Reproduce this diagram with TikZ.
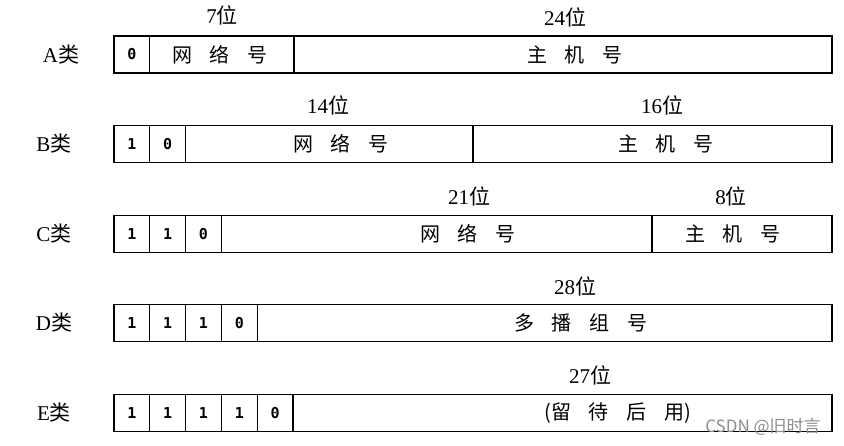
\documentclass[tikz,border=0pt]{standalone}
\usepackage{fontspec}
\setmainfont{Liberation Serif}
\newfontfamily\cjk{Noto Sans CJK SC}
\newfontfamily\bitfont{DejaVu Sans Mono}
\usetikzlibrary{positioning}
\definecolor{wmgray}{RGB}{140,140,140}
\newcommand\gap{\hspace{0.9em}}
\tikzset{
	bit/.style={draw, line width=1.3pt, minimum width=35.8pt, minimum height=37pt, inner sep=0pt, outer sep=0pt, font=\bitfont\bfseries\fontsize{15}{15}\selectfont},
	field/.style={draw, line width=1.3pt, minimum height=37pt, inner sep=0pt, outer sep=0pt},
	txt/.style={inner sep=0pt, font=\cjk\fontsize{20}{20}\selectfont},
	width/.style={inner sep=0pt, font=\fontsize{21}{21}\selectfont},
	cls/.style={inner sep=0pt, font=\fontsize{21}{21}\selectfont},
}
\begin{document}
\begin{tikzpicture}[x=1pt,y=-1pt]
	\useasboundingbox (0,0) rectangle (844,446);
	% A
	\node[cls] (acls) at (61,54.5) {A{\cjk 类}};
	\node[bit, anchor=west] (a1) at (114,54.5) {0};
	\node[field, minimum width=144.2pt, right=0pt of a1] (anet) {};
	\node[field, minimum width=538pt, right=0pt of anet] (ahost) {};
	\node[txt] (anettxt) at (220,54.5) {网\gap{}络\gap{}号};
	\node[txt] (ahosttxt) at (575,54.5) {主\gap{}机\gap{}号};
	\node[width] (anetw) at (222,15) {7{\cjk 位}};
	\node[width] (ahostw) at (565,17) {24{\cjk 位}};
	% B
	\node[cls] (bcls) at (54,144) {B{\cjk 类}};
	\node[bit, anchor=west] (b1) at (114,144) {1};
	\node[bit, right=0pt of b1] (b2) {0};
	\node[field, minimum width=287.4pt, right=0pt of b2] (bnet) {};
	\node[field, minimum width=359pt, right=0pt of bnet] (bhost) {};
	\node[txt] (bnettxt) at (341,144) {网\gap{}络\gap{}号};
	\node[txt] (bhosttxt) at (666,144) {主\gap{}机\gap{}号};
	\node[width] (bnetw) at (328,105) {14{\cjk 位}};
	\node[width] (bhostw) at (662,105) {16{\cjk 位}};
	% C
	\node[cls] (ccls) at (54,234) {C{\cjk 类}};
	\node[bit, anchor=west] (c1) at (114,234) {1};
	\node[bit, right=0pt of c1] (c2) {1};
	\node[bit, right=0pt of c2] (c3) {0};
	\node[field, minimum width=430.6pt, right=0pt of c3] (cnet) {};
	\node[field, minimum width=180pt, right=0pt of cnet] (chost) {};
	\node[txt] (cnettxt) at (468,234) {网\gap{}络\gap{}号};
	\node[txt] (chosttxt) at (733,234) {主\gap{}机\gap{}号};
	\node[width] (cnetw) at (469,196) {21{\cjk 位}};
	\node[width] (chostw) at (731,196) {8{\cjk 位}};
	% D
	\node[cls] (dcls) at (54,323) {D{\cjk 类}};
	\node[bit, anchor=west] (d1) at (114,323) {1};
	\node[bit, right=0pt of d1] (d2) {1};
	\node[bit, right=0pt of d2] (d3) {1};
	\node[bit, right=0pt of d3] (d4) {0};
	\node[field, minimum width=574.8pt, right=0pt of d4] (dgroup) {};
	\node[txt] (dgrouptxt) at (581,323) {多\gap{}播\gap{}组\gap{}号};
	\node[width] (dgroupw) at (575,286) {28{\cjk 位}};
	% E
	\node[cls] (ecls) at (54,413) {E{\cjk 类}};
	\node[bit, anchor=west] (e1) at (114,413) {1};
	\node[bit, right=0pt of e1] (e2) {1};
	\node[bit, right=0pt of e2] (e3) {1};
	\node[bit, right=0pt of e3] (e4) {1};
	\node[bit, right=0pt of e4] (e5) {0};
	\node[field, minimum width=539pt, right=0pt of e5] (erest) {};
	\node[txt] (eresttxt) at (618,413) {(留\gap{}待\gap{}后\gap{}用)};
	\node[width] (erestw) at (590,375) {27{\cjk 位}};
	\node[inner sep=0pt, text=wmgray, font=\cjk\fontsize{17}{17}\selectfont] (mark) at (763,427) {CSDN @旧时言};
\end{tikzpicture}
\end{document}
